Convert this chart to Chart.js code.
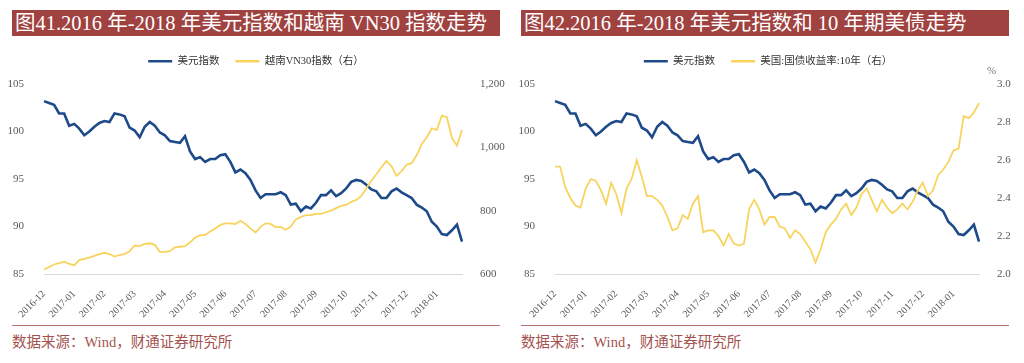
<!DOCTYPE html>
<html><head><meta charset="utf-8">
<script src="https://cdn.jsdelivr.net/npm/chart.js@4.4.1/dist/chart.umd.min.js"></script>
<style>
html,body{margin:0;padding:0;background:#fff;width:1024px;height:363px;overflow:hidden;}
.title{position:absolute;top:10px;height:26px;background:#A0423F;color:#fff;font-family:"Liberation Serif","Noto Sans CJK SC",serif;font-size:20.5px;line-height:27px;padding-left:3px;white-space:nowrap;box-sizing:border-box;overflow:hidden;}
.chartbox{position:absolute;top:40px;height:282px;width:512px;}
.rule{position:absolute;top:325px;height:0;border-top:1.5px solid #B5716D;}
.source{position:absolute;top:333px;font-family:"Liberation Serif","Noto Sans CJK SC",serif;font-size:14.5px;color:#A4524F;white-space:nowrap;line-height:18px}
.unit{position:absolute;left:987px;top:64px;font-family:"Liberation Serif",serif;font-size:11px;color:#777;}
</style></head>
<body>
<div class="title" style="left:12px;width:488px;">图41.2016 年-2018 年美元指数和越南 VN30 指数走势</div>
<div class="title" style="left:521px;width:488px;">图42.2016 年-2018 年美元指数和 10 年期美债走势</div>
<div class="chartbox" style="left:0px;"><canvas id="c1" width="512" height="282"></canvas></div>
<div class="chartbox" style="left:512px;"><canvas id="c2" width="512" height="282"></canvas></div>
<div class="unit">%</div>
<div class="rule" style="left:12px;width:488px;"></div>
<div class="rule" style="left:521px;width:488px;"></div>
<div class="source" style="left:12px;">数据来源：Wind，财通证券研究所</div>
<div class="source" style="left:521px;">数据来源：Wind，财通证券研究所</div>
<script>
const months = ['2016-12','2017-01','2017-02','2017-03','2017-04','2017-05','2017-06','2017-07','2017-08','2017-09','2017-10','2017-11','2017-12','2018-01'];
const perMonth = 6;
const categories = months.flatMap(m => Array.from({length: perMonth}, (_, k) => m + '/' + (k + 1)));

const dxy = [
103.2, 103.0, 102.8, 101.9, 101.9, 100.6, 100.8, 100.3, 99.6, 100.0,
100.5, 100.9, 101.1, 101.0, 101.9, 101.8, 101.6, 100.4, 100.1, 99.4,
100.5, 101.0, 100.6, 99.9, 99.6, 99.0, 98.9, 98.8, 99.5, 97.9,
97.1, 97.3, 96.8, 97.1, 97.1, 97.5, 97.6, 96.8, 95.7, 96.0,
95.6, 94.9, 93.8, 93.0, 93.4, 93.4, 93.4, 93.6, 93.3, 92.3,
92.4, 91.6, 92.1, 91.9, 92.5, 93.3, 93.3, 93.8, 93.2, 93.5,
94.0, 94.7, 94.9, 94.8, 94.4, 93.9, 93.7, 93.0, 93.0, 93.7,
94.0, 93.6, 93.3, 93.0, 92.3, 92.0, 91.6, 90.5, 90.0, 89.2,
89.1, 89.6, 90.2, 88.4
];
const vn30 = [
614, 622, 630, 634, 639, 632, 628, 644, 648, 652,
657, 663, 667, 663, 655, 660, 663, 672, 690, 688,
695, 697, 692, 670, 670, 672, 684, 686, 688, 700,
715, 723, 723, 734, 744, 755, 760, 760, 758, 768,
758, 744, 731, 749, 760, 758, 748, 749, 740, 750,
772, 780, 786, 786, 790, 790, 795, 800, 808, 815,
818, 828, 834, 846, 870, 895, 915, 937, 957, 940,
910, 925, 945, 950, 975, 1010, 1032, 1060, 1055, 1100,
1095, 1030, 1005, 1055
];
const us10y = [
2.565, 2.565, 2.458, 2.40, 2.36, 2.35, 2.45, 2.50, 2.49, 2.44,
2.37, 2.48, 2.42, 2.32, 2.45, 2.50, 2.60, 2.51, 2.41, 2.41,
2.39, 2.36, 2.30, 2.23, 2.24, 2.31, 2.29, 2.37, 2.41, 2.22,
2.23, 2.23, 2.20, 2.15, 2.21, 2.16, 2.15, 2.16, 2.34, 2.39,
2.34, 2.26, 2.30, 2.30, 2.25, 2.24, 2.19, 2.23, 2.21, 2.17,
2.13, 2.06, 2.13, 2.22, 2.26, 2.29, 2.34, 2.37, 2.31, 2.35,
2.42, 2.45, 2.39, 2.33, 2.39, 2.35, 2.32, 2.34, 2.37, 2.34,
2.38, 2.44, 2.48, 2.41, 2.44, 2.52, 2.55, 2.59, 2.65, 2.66,
2.83, 2.82, 2.85, 2.90
];
const leftTicks = [85, 90, 95, 100, 105];

const NAVY = '#1E4A8A';
const YELLOW = '#F8D45E';
const TICK = '#595959';
const SERIF = '"Liberation Serif", "Noto Sans CJK SC", serif';

const legendHeight = {
  id: 'legendHeight',
  beforeInit(chart) {
    const lg = chart.legend;
    const orig = lg.fit;
    lg.fit = function () { orig.call(this); this.height = 44; };
  }
};

function makeChart(id, rightLabel, rightData, rightScale, leftW, rightW) {
  return new Chart(document.getElementById(id), {
    type: 'line',
    data: {
      labels: categories,
      datasets: [
        {label: '美元指数', data: dxy, yAxisID: 'y', borderColor: NAVY, backgroundColor: NAVY,
         borderWidth: 2.6, pointRadius: 0, tension: 0, order: 1},
        {label: rightLabel, data: rightData, yAxisID: 'y1', borderColor: YELLOW, backgroundColor: YELLOW,
         borderWidth: 1.8, pointRadius: 0, tension: 0, order: 0}
      ]
    },
    options: {
      responsive: false, animation: false, devicePixelRatio: 1,
      layout: {padding: 0},
      plugins: {
        tooltip: {enabled: false},
        legend: {
          position: 'top', align: 'center',
          labels: {
            boxWidth: 24, boxHeight: 2.5, padding: 16, color: '#333',
            font: {family: SERIF, size: 10.5},
            sort: (a, b) => a.datasetIndex - b.datasetIndex,
            generateLabels: (chart) => Chart.defaults.plugins.legend.labels.generateLabels(chart)
              .map(l => Object.assign(l, {lineWidth: 0}))
          }
        }
      },
      scales: {
        x: {
          type: 'category', offset: false,
          grid: {display: false},
          border: {display: true, color: '#D9D9D9', width: 1},
          ticks: {
            autoSkip: false, minRotation: 45, maxRotation: 45, padding: 6,
            color: TICK, font: {family: SERIF, size: 10},
            callback: function (v) { return v % perMonth === 0 ? months[v / perMonth] : null; }
          },
          afterFit: s => { s.height = 48; }
        },
        y: {
          position: 'left', min: 85, max: 105,
          afterBuildTicks: s => { s.ticks = leftTicks.map(v => ({value: v})); },
          grid: {display: false}, border: {display: false},
          ticks: {padding: 12, color: TICK, font: {family: SERIF, size: 11}},
          afterFit: s => { s.width = leftW; }
        },
        y1: Object.assign({
          position: 'right',
          grid: {display: false}, border: {display: false},
          afterFit: s => { s.width = rightW; }
        }, rightScale)
      }
    },
    plugins: [legendHeight]
  });
}

const vnTicks = [600, 800, 1000, 1200];
const ustTicks = [2.0, 2.2, 2.4, 2.6, 2.8, 3.0];

makeChart('c1', '越南VN30指数（右）', vn30, {
  min: 600, max: 1200,
  afterBuildTicks: s => { s.ticks = vnTicks.map(v => ({value: v})); },
  ticks: {padding: 10, color: TICK, font: {family: SERIF, size: 11},
          callback: v => v.toLocaleString('en-US')}
}, 44, 50);

makeChart('c2', '美国:国债收益率:10年（右）', us10y, {
  min: 2.0, max: 3.0,
  afterBuildTicks: s => { s.ticks = ustTicks.map(v => ({value: v})); },
  ticks: {padding: 10, color: TICK, font: {family: SERIF, size: 11},
          callback: v => v.toFixed(1)}
}, 43, 45);
</script>
</body></html>
